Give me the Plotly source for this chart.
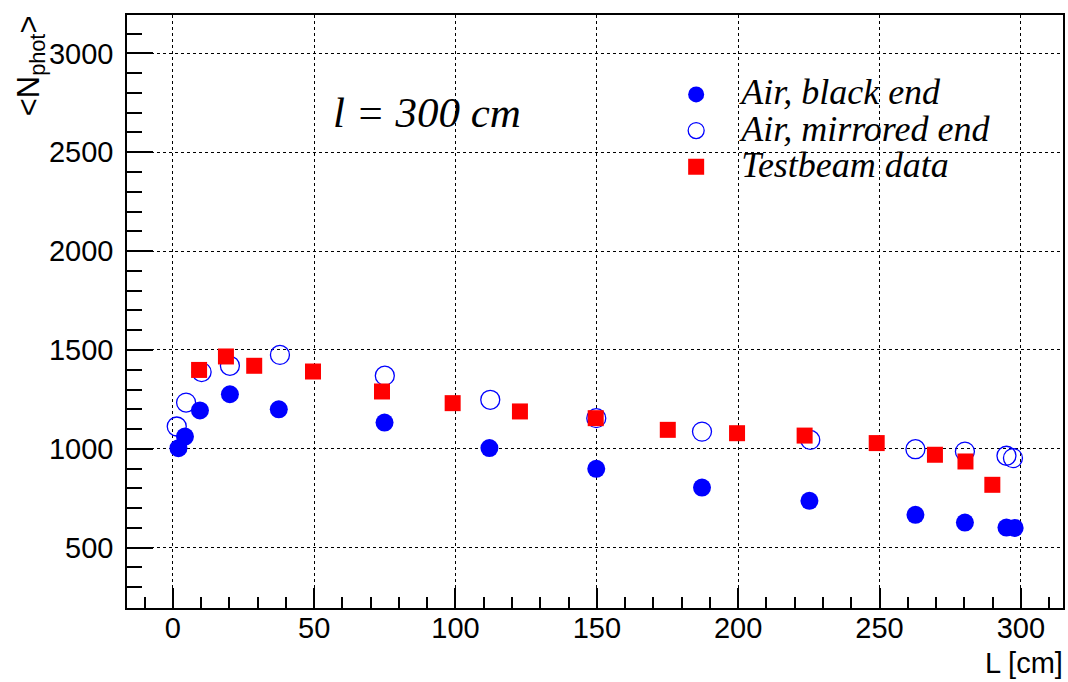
import plotly.graph_objects as go

# Data
black_x = [2, 4.3, 9.6, 20.2, 37.5, 74.9, 112, 149.8, 187.2, 225.2, 262.7, 280.2, 294.9, 297.8]
black_y = [1003, 1062, 1194, 1276, 1200, 1133, 1004, 899, 804, 737, 666, 627, 602, 600]

mirror_x = [1.4, 4.7, 10.2, 20.2, 37.9, 75, 112.3, 149.8, 187.2, 225.5, 262.7, 280.2, 294.9, 297.2]
mirror_y = [1113, 1234, 1388, 1420, 1475, 1370, 1248, 1155, 1087, 1045, 998, 986, 965, 953]

beam_x = [9.3, 18.8, 28.8, 49.6, 74, 99, 122.8, 149.6, 175.1, 199.6, 223.5, 249, 269.6, 280.4, 289.9]
beam_y = [1399, 1467, 1420, 1391, 1290, 1231, 1189, 1155, 1096, 1079, 1067, 1029, 970, 936, 818]

x_ticks = [0, 50, 100, 150, 200, 250, 300]
y_ticks = [500, 1000, 1500, 2000, 2500, 3000]

LEG = "<span style='font-size:36px'><i>{}</i></span>"

fig = go.Figure()
fig.add_trace(go.Scatter(x=black_x, y=black_y, mode="markers",
                         name=LEG.format("Air, black end"),
                         marker=dict(symbol="circle", size=18, color="#0000ff")))
fig.add_trace(go.Scatter(x=mirror_x, y=mirror_y, mode="markers",
                         name=LEG.format("Air, mirrored end"),
                         marker=dict(symbol="circle-open", size=19, color="#0000ff",
                                     line=dict(width=1.3, color="#0000cc"))))
fig.add_trace(go.Scatter(x=beam_x, y=beam_y, mode="markers",
                         name=LEG.format("Testbeam data"),
                         marker=dict(symbol="square", size=16, color="#ff0000")))

axis_common = dict(
    showline=True, linecolor="black", linewidth=1.5, mirror=True,
    ticks="inside", tickcolor="black", tickwidth=1.5,
    showgrid=True, gridcolor="black", gridwidth=1, griddash="dot",
    zeroline=False,
    tickfont=dict(family="Liberation Sans, Arial", size=29, color="black"),
)

fig.update_xaxes(range=[-16.2, 314.9], tickvals=x_ticks, ticklen=20,
                 minor=dict(dtick=10, tick0=0, ticklen=11, ticks="inside",
                            tickcolor="black", tickwidth=1.5, showgrid=False),
                 ticklabelstandoff=-7,
                 **axis_common)
fig.update_yaxes(range=[195, 3194], tickvals=y_ticks, ticklen=26,
                 minor=dict(dtick=100, tick0=0, ticklen=15, ticks="inside",
                            tickcolor="black", tickwidth=1.5, showgrid=False),
                 ticklabelstandoff=6,
                 **axis_common)

fig.update_layout(
    width=1068, height=682,
    margin=dict(l=127, r=3, t=15, b=74),
    plot_bgcolor="white", paper_bgcolor="white",
    showlegend=True,
    legend=dict(x=0.56, y=0.905, xanchor="left", yanchor="top",
                bgcolor="rgba(0,0,0,0)", borderwidth=0,
                itemwidth=80, tracegroupgap=0,
                font=dict(family="Liberation Serif, Times New Roman", size=25.5, color="black")),
    annotations=[
        dict(text="<i>l = 300 cm</i>", xref="paper", yref="paper",
             x=0.32, y=0.835, xanchor="center", yanchor="middle", showarrow=False,
             font=dict(family="Liberation Serif, Times New Roman", size=43, color="black")),
        dict(text="L [cm]", xref="paper", yref="paper",
             x=1.0, y=-0.093, xanchor="right", yanchor="middle", showarrow=False,
             xshift=2,
             font=dict(family="Liberation Sans, Arial", size=29, color="black")),
        dict(text="&lt;N<sub>phot</sub>&gt;", xref="paper", yref="paper",
             x=-0.103, y=1.003, xanchor="center", yanchor="top", showarrow=False,
             textangle=-90,
             font=dict(family="Liberation Sans, Arial", size=31, color="black")),
    ],
)

fig.write_html("out.html")
